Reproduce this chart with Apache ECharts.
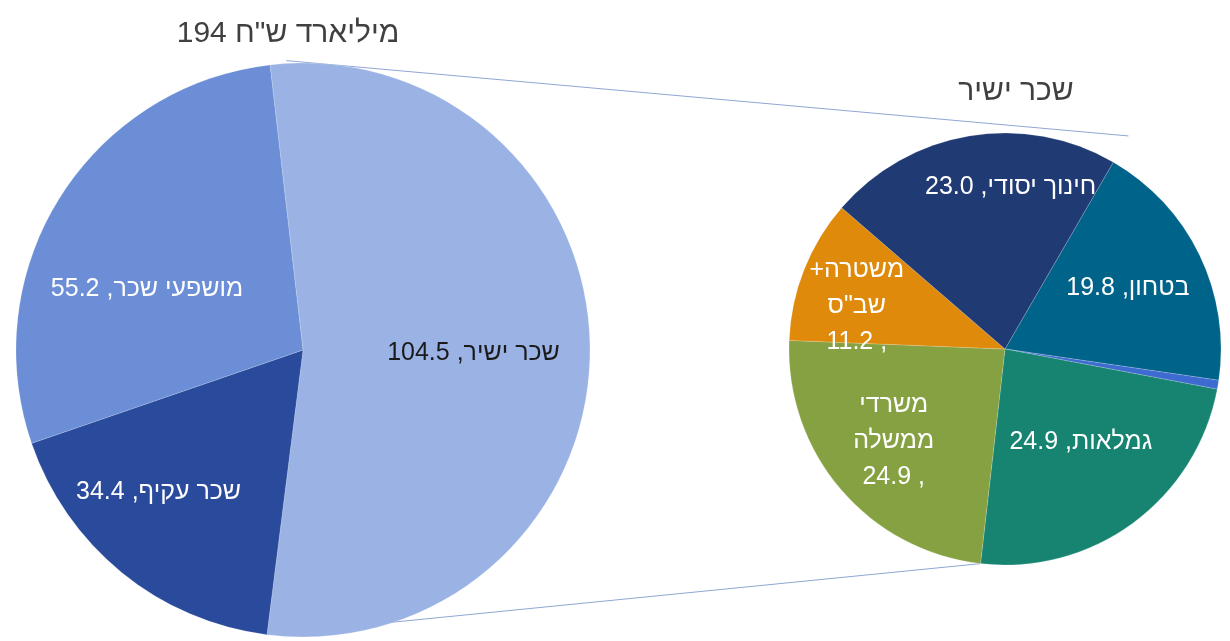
<!DOCTYPE html>
<html>
<head>
<meta charset="utf-8">
<script src="https://cdn.jsdelivr.net/npm/echarts@6/dist/echarts.min.js"></script>
<style>
  html, body { margin: 0; padding: 0; background: #fff; }
  #chart { width: 1230px; height: 641px; }
</style>
</head>
<body>
<div id="chart"></div>
<script>
// main pie: total salary cost (billion NIS)
const mainNames = ['שכר ישיר', 'שכר עקיף', 'מושפעי שכר']
const mainValues = [104.5, 34.4, 55.2]
const mainTitle = '194 מיליארד ש"ח'

// secondary pie: breakdown of direct salary
const subNames = ['בטחון', 'אחר', 'גמלאות', 'משרדי ממשלה', 'משטרה+ שב"ס', 'חינוך יסודי']
const subValues = [19.8, 0.7, 24.9, 24.9, 11.2, 23.0]
const subTitle = 'שכר ישיר'

const font = '"Liberation Sans", "Open Sans", "DejaVu Sans", sans-serif'
const mainColors = ['#9bb3e4', '#2a4b9b', '#6b8ed6']
const subColors = ['#006389', '#3d6bd0', '#168470', '#86a141', '#df8a0b', '#203a74']

// geometry (px)
const mainC = [303, 350], mainR = 287
const subC = [1005, 349], subR = 216
const mainStart = 96.6, subStart = 59.9

// label text: wrapped like the original for the narrow slices
const wrapped = {
  'משרדי ממשלה': (v) => 'משרדי\nממשלה\n' + v + ' ,',
  'משטרה+ שב"ס': (v) => '+משטרה\nשב"ס\n' + v + ' ,'
}
const fmt = (p) => {
  const v = p.value.toFixed(1)
  if (wrapped[p.name]) return wrapped[p.name](v)
  return p.name + ', ' + v
}
// small nudges of the inside labels
const nudge = {
  'שכר ישיר': [24, 2], 'שכר עקיף': [-52, 28], 'מושפעי שכר': [-32, 17],
  'בטחון': [23, -13], 'גמלאות': [10, 4], 'משרדי ממשלה': [-27, 20],
  'משטרה+ שב"ס': [-45, -2], 'חינוך יסודי': [24, -52]
}

const pt = (c, r, deg) => {
  const a = deg * Math.PI / 180
  return [c[0] + r * Math.cos(a), c[1] - r * Math.sin(a)]
}
const mainEnd = mainStart - mainValues[0] / mainValues.reduce((a, b) => a + b, 0) * 360
const top1 = pt(mainC, mainR * 1.01, mainStart - 3.3)
const top2 = pt(subC, subR * 1.14, subStart)
const bot1 = pt(mainC, mainR, mainEnd)
const bot2 = pt(subC, subR, -96.5)

const labelStyle = {
  position: 'inside', formatter: fmt, fontFamily: font, fontSize: 25,
  color: '#fff', lineHeight: 36
}

const myChart = echarts.init(document.getElementById('chart'))
myChart.setOption({
  animation: false,
  title: [
    {
      text: mainTitle, left: 283, top: 14, textAlign: 'center',
      textStyle: {fontFamily: font, fontSize: 30, fontWeight: 'normal', color: '#404040'}
    },
    {
      text: subTitle, left: 1011, top: 72, textAlign: 'center',
      textStyle: {fontFamily: font, fontSize: 30, fontWeight: 'normal', color: '#404040'}
    }
  ],
  graphic: [
    {type: 'line', shape: {x1: top1[0], y1: top1[1], x2: top2[0], y2: top2[1]},
      style: {stroke: '#8fa5d3', lineWidth: 1}, z: 0},
    {type: 'line', shape: {x1: bot1[0], y1: bot1[1], x2: bot2[0], y2: bot2[1]},
      style: {stroke: '#8fa5d3', lineWidth: 1}, z: 0}
  ],
  series: [
    {
      type: 'pie',
      center: mainC,
      radius: [0, mainR],
      startAngle: mainStart,
      clockwise: true,
      avoidLabelOverlap: false,
      itemStyle: {borderColor: 'rgba(255,255,255,0.35)', borderWidth: 0.5},
      label: labelStyle,
      labelLayout: (p) => {
        const d = nudge[mainNames[p.dataIndex]] || [0, 0]
        return {dx: d[0], dy: d[1]}
      },
      emphasis: {disabled: true},
      data: mainNames.map((n, i) => ({
        name: n, value: mainValues[i], itemStyle: {color: mainColors[i]},
        label: i === 0 ? {color: '#1a1a1a'} : {}
      }))
    },
    {
      type: 'pie',
      center: subC,
      radius: [0, subR],
      startAngle: subStart,
      clockwise: true,
      avoidLabelOverlap: false,
      itemStyle: {borderColor: 'rgba(255,255,255,0.35)', borderWidth: 0.5},
      label: labelStyle,
      labelLayout: (p) => {
        const d = nudge[subNames[p.dataIndex]] || [0, 0]
        return {dx: d[0], dy: d[1]}
      },
      emphasis: {disabled: true},
      data: subNames.map((n, i) => ({
        name: n, value: subValues[i], itemStyle: {color: subColors[i]},
        label: i === 1 ? {show: false} : {}
      }))
    }
  ]
})
</script>
</body>
</html>
